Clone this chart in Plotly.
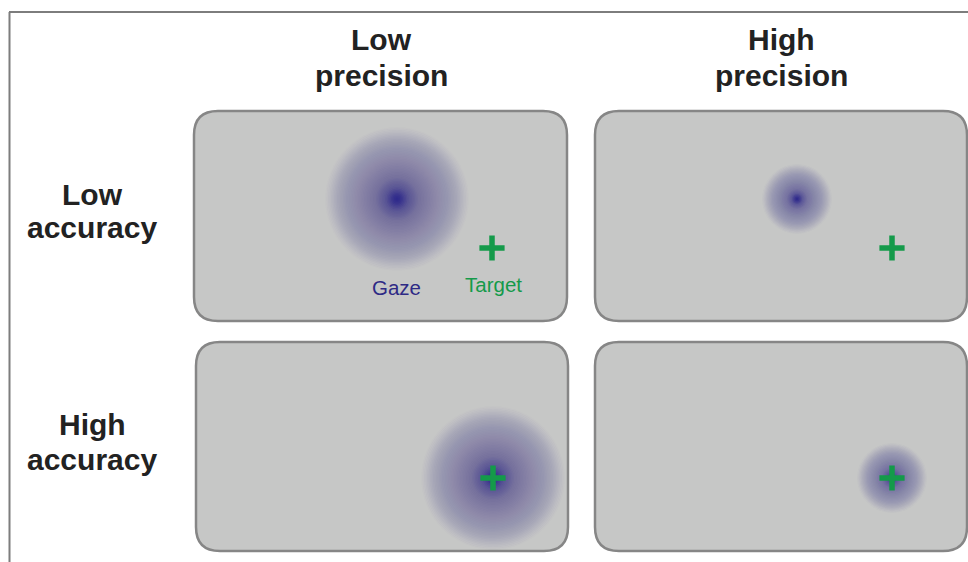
import plotly.graph_objects as go

# ---- data ----
col_labels = ["Low", "precision"], ["High", "precision"]
row_labels = ["Low", "accuracy"], ["High", "accuracy"]
panel_names = ["low_acc_low_prec", "low_acc_high_prec", "high_acc_low_prec", "high_acc_high_prec"]
gaze_x = [203, 202, 297, 297]      # gaze centre, relative to panel corner
gaze_y = [88, 88, 136, 136]
gaze_radius = [72, 35, 72, 35]     # spread (precision)
target_x = [298, 297, 297, 297]
target_y = [137, 137, 136, 136]
gaze_label = "Gaze"
target_label = "Target"

# ---- layout constants ----
W, H = 968, 562
panel_boxes = [(194, 111, 567, 321), (595, 111, 967, 321),
               (196, 342, 568, 551), (595, 342, 967, 551)]
BLUE = (45, 40, 140)
GREEN = "#149a4a"
PANEL_FILL = "#c6c7c6"
PANEL_LINE = "#868686"
TXT = "#222222"
FONT = "Liberation Sans, Arial, sans-serif"

# radial opacity profile (normalized radius, cumulative alpha)
profile = [(0.0, 1.0), (0.06, 0.9), (0.16, 0.66), (0.3, 0.48), (0.5, 0.36),
           (0.68, 0.28), (0.8, 0.2), (0.9, 0.1), (1.0, 0.0)]


def alpha_at(t):
    for (t0, a0), (t1, a1) in zip(profile[:-1], profile[1:]):
        if t0 <= t <= t1:
            return a0 + (a1 - a0) * (t - t0) / (t1 - t0)
    return 0.0


def rounded(x0, y0, x1, y1, r):
    return (f"M{x0+r},{y0} L{x1-r},{y0} Q{x1},{y0} {x1},{y0+r} "
            f"L{x1},{y1-r} Q{x1},{y1} {x1-r},{y1} L{x0+r},{y1} "
            f"Q{x0},{y1} {x0},{y1-r} L{x0},{y0+r} Q{x0},{y0} {x0+r},{y0} Z")


shapes = []
# frame lines
shapes.append(dict(type="line", x0=9, x1=W, y0=12, y1=12, xref="x", yref="y",
                   line=dict(color="#7d7d7d", width=2)))
shapes.append(dict(type="line", x0=9.5, x1=9.5, y0=12, y1=H, xref="x", yref="y",
                   line=dict(color="#7d7d7d", width=2)))

for i, (x0, y0, x1, y1) in enumerate(panel_boxes):
    shapes.append(dict(type="path", path=rounded(x0, y0, x1, y1, 24), xref="x", yref="y",
                       fillcolor=PANEL_FILL, line=dict(color=PANEL_LINE, width=2.5), layer="below"))
    cx, cy, R = x0 + gaze_x[i], y0 + gaze_y[i], gaze_radius[i]
    N = 48 if R > 50 else 28
    prev = 0.0
    for k in range(N):
        r_out = R * (1 - k / N)
        t_mid = (1 - (k + 0.5) / N)
        A = alpha_at(t_mid)
        A = max(A, prev)
        a = 1 - (1 - A) / (1 - prev) if prev < 1 else 0
        prev = A
        if a <= 0:
            continue
        shapes.append(dict(type="circle", xref="x", yref="y",
                           x0=cx - r_out, x1=cx + r_out, y0=cy - r_out, y1=cy + r_out,
                           fillcolor=f"rgba({BLUE[0]},{BLUE[1]},{BLUE[2]},{a:.4f})",
                           line=dict(width=0), layer="below"))

fig = go.Figure()
tx = [panel_boxes[i][0] + target_x[i] for i in range(4)]
ty = [panel_boxes[i][1] + target_y[i] for i in range(4)]
fig.add_trace(go.Scatter(x=tx, y=ty, mode="markers", hoverinfo="skip",
                         marker=dict(symbol="cross-thin", size=18,
                                     line=dict(color=GREEN, width=5.5), color=GREEN)))

annotations = []
col_cx = [381, 781]
for c, (l1, l2) in enumerate(col_labels):
    annotations.append(dict(x=col_cx[c], y=39, text=f"<b>{l1}</b>"))
    annotations.append(dict(x=col_cx[c], y=75, text=f"<b>{l2}</b>"))
row_cy = [(194, 227), (424.5, 459)]
for r, (l1, l2) in enumerate(row_labels):
    annotations.append(dict(x=92, y=row_cy[r][0], text=f"<b>{l1}</b>"))
    annotations.append(dict(x=92, y=row_cy[r][1], text=f"<b>{l2}</b>"))
for a in annotations:
    a.update(xref="x", yref="y", showarrow=False, xanchor="center", yanchor="middle",
             font=dict(family=FONT, size=30, color=TXT))
# gaze / target legend text in first panel
p0 = panel_boxes[0]
annotations.append(dict(x=p0[0] + gaze_x[0] - 1, y=287.5, text=gaze_label, xref="x", yref="y",
                        showarrow=False, font=dict(family=FONT, size=20.5, color="#2e2a85")))
annotations.append(dict(x=p0[0] + target_x[0] + 1, y=284.5, text=target_label, xref="x", yref="y",
                        showarrow=False, font=dict(family=FONT, size=20.5, color=GREEN)))

fig.update_layout(
    width=W, height=H, margin=dict(l=0, r=0, t=0, b=0),
    paper_bgcolor="white", plot_bgcolor="white", showlegend=False,
    shapes=shapes, annotations=annotations,
    xaxis=dict(range=[0, W], visible=False, fixedrange=True),
    yaxis=dict(range=[H, 0], visible=False, fixedrange=True),
)
fig.write_html("out.html", config={"displayModeBar": False},
               post_script="document.body.style.margin='0';document.body.style.overflow='hidden';")
